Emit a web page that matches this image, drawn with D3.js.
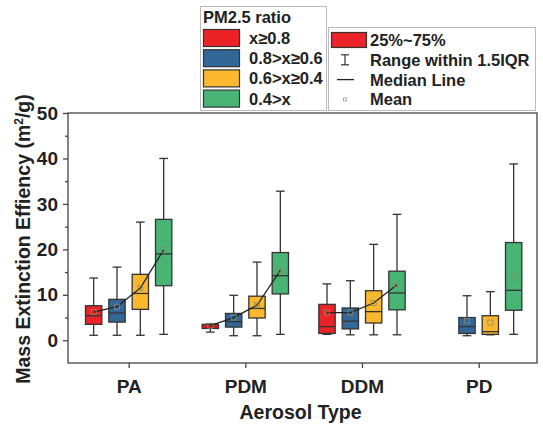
<!DOCTYPE html>
<html>
<head>
<meta charset="utf-8">
<script src="https://cdn.jsdelivr.net/npm/d3@7"></script>
<style>
  body { margin: 0; background: #fff; }
  text { font-family: "Liberation Sans", Arial, sans-serif; font-weight: bold; fill: #222; }
</style>
</head>
<body>
<script>
// aerosol types on the x axis
const categories = ["PA", "PDM", "DDM", "PD"];
// PM2.5 ratio classes (one box per class inside each type)
const ratioGroups = ["x≥0.8", "0.8>x≥0.6", "0.6>x≥0.4", "0.4>x"];
const ratioColors = ["#ec2227", "#336797", "#fbb82f", "#48b575"];

// box statistics, one row per aerosol type, one value per ratio class
const whiskerLow  = [[1.1, 1.1, 1.1, 1.3], [1.8, 1.0, 1.0, 1.3], [1.3, 1.2, 1.2, 1.2], [null, 1.0, 1.2, 1.3]];
const q1          = [[3.5, 4.0, 6.8, 12.0], [2.6, 2.9, 4.9, 10.2], [1.5, 2.5, 3.8, 6.7], [null, 1.5, 1.3, 6.6]];
const medians     = [[5.4, 6.0, 10.3, 19.0], [3.0, 4.1, 7.0, 14.2], [3.0, 4.2, 6.3, 10.4], [null, 3.0, 1.9, 11.0]];
const q3          = [[7.6, 9.0, 14.5, 26.6], [3.5, 5.9, 9.7, 19.3], [7.9, 7.1, 10.9, 15.2], [null, 5.0, 5.4, 21.5]];
const whiskerHigh = [[13.7, 16.1, 26.0, 40.0], [3.6, 9.9, 17.2, 32.8], [12.4, 13.1, 21.1, 27.7], [null, 9.8, 10.7, 38.8]];
const means       = [[6.2, 7.4, 11.5, 19.9], [3.2, 5.0, 7.7, 15.4], [6.1, 6.1, 8.2, 12.2], [null, 4.3, 3.9, 13.8]];
const meanLinked  = [true, true, true, false];

const yTicks = [0, 10, 20, 30, 40, 50];
const yMinorTicks = [5, 15, 25, 35, 45];

const statLegend = ["25%~75%", "Range within 1.5IQR", "Median Line", "Mean"];

var width = 543, height = 425;
var svg = d3.select("body").append("svg")
  .attr("width", width)
  .attr("height", height);

var x = d3.scaleLinear().domain([0.48, 4.5]).range([68, 537]);
var y = d3.scaleLinear().domain([-5, 50]).range([363, 113]);

var offsets = [-0.3, -0.1, 0.1, 0.3];
var boxW = x(0.14) - x(0);
var capW = x(0.075) - x(0);
var axisColor = "#444";
var boxStroke = "#333";

// build a flat table from the arrays
var boxes = [];
categories.forEach(function(cat, i) {
  ratioGroups.forEach(function(grp, j) {
    if (medians[i][j] == null) return;
    boxes.push({
      cat: i, grp: j,
      cx: x(i + 1 + offsets[j]),
      lo: whiskerLow[i][j], q1: q1[i][j], med: medians[i][j],
      q3: q3[i][j], hi: whiskerHigh[i][j], mean: means[i][j]
    });
  });
});

// frame
svg.append("rect")
  .attr("x", x.range()[0]).attr("y", y.range()[1])
  .attr("width", x.range()[1] - x.range()[0])
  .attr("height", y.range()[0] - y.range()[1])
  .attr("fill", "none").attr("stroke", axisColor).attr("stroke-width", 1.3);

// axes
var yAxis = svg.append("g")
  .attr("transform", `translate(${x.range()[0]},0)`)
  .call(d3.axisLeft(y).tickValues(yTicks).tickSize(5).tickPadding(5));
var yMinor = svg.append("g")
  .attr("transform", `translate(${x.range()[0]},0)`)
  .call(d3.axisLeft(y).tickValues(yMinorTicks).tickSize(3).tickFormat(""));
var xAxis = svg.append("g")
  .attr("transform", `translate(0,${y.range()[0]})`)
  .call(d3.axisBottom(x).tickValues([1, 2, 3, 4]).tickSize(5).tickPadding(12)
    .tickFormat(function(d) { return categories[d - 1]; }));

[yAxis, yMinor, xAxis].forEach(function(a) {
  a.select(".domain").remove();
  a.selectAll("line").attr("stroke", axisColor).attr("stroke-width", 1.3);
  a.selectAll("text").attr("font-size", 19).attr("fill", "#222")
    .attr("font-family", null);
});

// axis titles
svg.append("text")
  .attr("x", (x.range()[0] + x.range()[1]) / 2 - 2)
  .attr("y", 419)
  .attr("text-anchor", "middle")
  .attr("font-size", 19.5)
  .text("Aerosol Type");

var yTitle = svg.append("text")
  .attr("transform", "translate(30,239) rotate(-90)")
  .attr("text-anchor", "middle")
  .attr("font-size", 19.5);
yTitle.append("tspan").text("Mass Extinction Effiency (m");
yTitle.append("tspan").attr("font-size", 12).attr("dy", -7).text("2");
yTitle.append("tspan").attr("dy", 7).text("/g)");

// whiskers
var g = svg.selectAll(".box").data(boxes).enter().append("g").attr("class", "box");

g.append("line")
  .attr("x1", d => d.cx).attr("x2", d => d.cx)
  .attr("y1", d => y(d.lo)).attr("y2", d => y(d.hi))
  .attr("stroke", boxStroke).attr("stroke-width", 1.3);
g.append("line")
  .attr("x1", d => d.cx - capW / 2).attr("x2", d => d.cx + capW / 2)
  .attr("y1", d => y(d.hi)).attr("y2", d => y(d.hi))
  .attr("stroke", boxStroke).attr("stroke-width", 1.3);
g.append("line")
  .attr("x1", d => d.cx - capW / 2).attr("x2", d => d.cx + capW / 2)
  .attr("y1", d => y(d.lo)).attr("y2", d => y(d.lo))
  .attr("stroke", boxStroke).attr("stroke-width", 1.3);

// boxes
g.append("rect")
  .attr("x", d => d.cx - boxW / 2)
  .attr("y", d => y(d.q3))
  .attr("width", boxW)
  .attr("height", d => y(d.q1) - y(d.q3))
  .attr("fill", d => ratioColors[d.grp])
  .attr("stroke", boxStroke).attr("stroke-width", 1.3);

// medians
g.append("line")
  .attr("x1", d => d.cx - boxW / 2).attr("x2", d => d.cx + boxW / 2)
  .attr("y1", d => y(d.med)).attr("y2", d => y(d.med))
  .attr("stroke", d => (y(d.q1) - y(d.q3) < 6) ? "#c0171c" : boxStroke)
  .attr("stroke-width", 1.3);

// mean connecting lines
var meanLine = d3.line().x(d => d.cx).y(d => y(d.mean));
categories.forEach(function(cat, i) {
  if (!meanLinked[i]) return;
  svg.append("path")
    .datum(boxes.filter(b => b.cat == i))
    .attr("d", meanLine)
    .attr("fill", "none")
    .attr("stroke", "#222")
    .attr("stroke-width", 1.3);
});

// mean markers
svg.selectAll(".mean").data(boxes).enter().append("rect")
  .attr("class", "mean")
  .attr("x", d => d.cx - 2.5).attr("y", d => y(d.mean) - 2.5)
  .attr("width", 5).attr("height", 5)
  .attr("fill", "none").attr("stroke", "#8a8a6a").attr("stroke-width", 0.8);

// legend 1: PM2.5 ratio
var leg1 = svg.append("g");
leg1.append("rect")
  .attr("x", 200.5).attr("y", 6.5).attr("width", 126).attr("height", 104)
  .attr("fill", "#fff").attr("stroke", "#bbb");
leg1.append("text").attr("x", 203).attr("y", 23).attr("font-size", 16.5).text("PM2.5 ratio");
ratioGroups.forEach(function(lbl, j) {
  var cy = 38 + j * 20.2;
  leg1.append("rect")
    .attr("x", 203.5).attr("y", cy - 8.5).attr("width", 36).attr("height", 17)
    .attr("fill", ratioColors[j]).attr("stroke", boxStroke).attr("stroke-width", 1.2);
  leg1.append("text").attr("x", 249).attr("y", cy + 6).attr("font-size", 16.5).text(lbl);
});

// legend 2: box statistics
var leg2 = svg.append("g");
leg2.append("rect")
  .attr("x", 328.5).attr("y", 27.5).attr("width", 207).attr("height", 83)
  .attr("fill", "#fff").attr("stroke", "#bbb");
statLegend.forEach(function(lbl, k) {
  var cy = 40 + k * 19.8;
  leg2.append("text").attr("x", 370).attr("y", cy + 6).attr("font-size", 16.5).text(lbl);
});
leg2.append("rect")
  .attr("x", 331.5).attr("y", 32.5).attr("width", 35).attr("height", 15)
  .attr("fill", ratioColors[0]).attr("stroke", boxStroke).attr("stroke-width", 1.2);
var iy = 40 + 19.8;
leg2.append("line").attr("x1", 345).attr("x2", 345).attr("y1", iy - 5).attr("y2", iy + 5)
  .attr("stroke", boxStroke).attr("stroke-width", 1.2);
leg2.append("line").attr("x1", 341).attr("x2", 349).attr("y1", iy - 5).attr("y2", iy - 5)
  .attr("stroke", boxStroke).attr("stroke-width", 1.2);
leg2.append("line").attr("x1", 341).attr("x2", 349).attr("y1", iy + 5).attr("y2", iy + 5)
  .attr("stroke", boxStroke).attr("stroke-width", 1.2);
var my = 40 + 2 * 19.8;
leg2.append("line").attr("x1", 337).attr("x2", 354).attr("y1", my).attr("y2", my)
  .attr("stroke", "#222").attr("stroke-width", 1.3);
var ny = 40 + 3 * 19.8;
leg2.append("rect").attr("x", 343.5).attr("y", ny - 1.5).attr("width", 3).attr("height", 3)
  .attr("fill", "none").attr("stroke", "#999").attr("stroke-width", 0.8);
</script>
</body>
</html>
